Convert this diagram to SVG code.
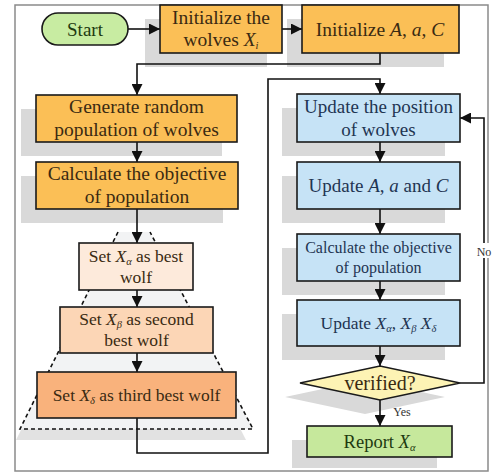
<svg xmlns="http://www.w3.org/2000/svg" width="492" height="474" viewBox="0 0 492 474" font-family="'Liberation Serif', 'Times New Roman', 'DejaVu Serif', serif">
  <style>
    text { font-family: 'Liberation Serif', 'Times New Roman', 'DejaVu Serif', serif; text-anchor: middle; }
    .box { stroke: #1a1a1a; stroke-width: 1.6; }
    .shadow { fill: #d9d9d9; }
    .orange { fill: #fbbf56; }
    .blue { fill: #c6e3f6; }
    .tl { fill: #3a2a12; font-size: 19.5px; }
    .tr { fill: #1f3552; font-size: 19px; }
    .ts { font-size: 17.5px; }
    .it { font-style: italic; }
    .sub { font-size: 10.5px; font-style: italic; }
    .conn { fill: none; stroke: #111; stroke-width: 1.6; }
    .lbl { fill: #333; font-size: 12px; }
  </style>
  <defs>
    <marker id="arrow" markerUnits="userSpaceOnUse" markerWidth="11" markerHeight="11" refX="11" refY="5.5" orient="auto">
      <path d="M0,0 L11,5.5 L0,11 Z" fill="#111"/>
    </marker>
  </defs>

  <!-- outer frame -->
  <rect x="15" y="5" width="473" height="466" fill="#ffffff" stroke="#8a8a8a" stroke-width="1.5"/>

  <!-- box shadows -->
  <g id="shadows">
    <rect class="shadow" x="145" y="19" width="122" height="48"/>
    <rect class="shadow" x="287" y="19" width="157" height="48"/>
    <rect class="shadow" x="21" y="109" width="201" height="47"/>
    <rect class="shadow" x="21" y="176" width="202" height="47"/>
    <rect class="shadow" x="282" y="108" width="163" height="48"/>
    <rect class="shadow" x="282" y="176" width="163" height="47"/>
    <rect class="shadow" x="282" y="248" width="163" height="47"/>
    <rect class="shadow" x="282" y="314" width="163" height="46"/>
    <polygon class="shadow" points="285,397 365,380 445,397 365,414"/>
    <rect class="shadow" x="292" y="440" width="145" height="28"/>
    <polygon points="114,244 146,244 246,440 16,440" fill="#e2e2e2"/>
  </g>

  <!-- hierarchy pyramid (dashed) -->
  <g id="pyramid">
    <polygon points="118,232 150,232 253,429 20,429" fill="#f2f3f4"/>
    <path d="M118,232 L20,429 L253,429 L150,232" fill="none" stroke="#111" stroke-width="1.6" stroke-dasharray="4,3"/>
  </g>

  <!-- connectors -->
  <g id="connectors">
    <line class="conn" x1="128" y1="29" x2="160" y2="29" marker-end="url(#arrow)"/>
    <line class="conn" x1="282" y1="29" x2="302" y2="29" marker-end="url(#arrow)"/>
    <path class="conn" d="M380,53 V64 H137 V95" marker-end="url(#arrow)"/>
    <line class="conn" x1="137" y1="142" x2="137" y2="162" marker-end="url(#arrow)"/>
    <line class="conn" x1="137" y1="209" x2="137" y2="243" marker-end="url(#arrow)"/>
    <line class="conn" x1="137" y1="290" x2="137" y2="307" marker-end="url(#arrow)"/>
    <line class="conn" x1="137" y1="353" x2="137" y2="372" marker-end="url(#arrow)"/>
    <path class="conn" d="M137,418 V453 H268 V79 H380 V94" marker-end="url(#arrow)"/>
    <line class="conn" x1="380" y1="142" x2="380" y2="162" marker-end="url(#arrow)"/>
    <line class="conn" x1="380" y1="209" x2="380" y2="234" marker-end="url(#arrow)"/>
    <line class="conn" x1="380" y1="281" x2="380" y2="300" marker-end="url(#arrow)"/>
    <line class="conn" x1="380" y1="346" x2="380" y2="366" marker-end="url(#arrow)"/>
    <line class="conn" x1="380" y1="400" x2="380" y2="426" marker-end="url(#arrow)"/>
    <path class="conn" d="M460,383 H484 V118 H460" marker-end="url(#arrow)"/>
    <rect x="476" y="243" width="16" height="15" fill="#ffffff"/>
    <text class="lbl" x="484" y="256">No</text>
    <text class="lbl" x="402" y="416">Yes</text>
  </g>

  <!-- nodes -->
  <g id="start">
    <rect class="box" x="42" y="13" width="86" height="32" rx="16" fill="#c8eca2"/>
    <text x="85" y="35.5" fill="#1e3a10" style="font-size:19px">Start</text>
  </g>
  <g id="init-wolves">
    <rect class="box orange" x="160" y="5" width="122" height="48"/>
    <text class="tl" x="221" y="24">Initialize the</text>
    <text class="tl" x="221" y="46">wolves <tspan class="it">X</tspan><tspan class="sub" dy="3">i</tspan></text>
  </g>
  <g id="init-params">
    <rect class="box orange" x="302" y="5" width="157" height="48"/>
    <text class="tl" x="380" y="35.5">Initialize <tspan class="it">A</tspan>, <tspan class="it">a</tspan>, <tspan class="it">C</tspan></text>
  </g>
  <g id="generate">
    <rect class="box orange" x="36" y="95" width="201" height="47"/>
    <text class="tl" x="136.5" y="113">Generate random</text>
    <text class="tl" x="136.5" y="135.5">population of wolves</text>
  </g>
  <g id="calc-left">
    <rect class="box orange" x="36" y="162" width="202" height="47"/>
    <text class="tl" x="137" y="180">Calculate the objective</text>
    <text class="tl" x="137" y="202.5">of population</text>
  </g>
  <g id="set-alpha">
    <rect class="box" x="79" y="243" width="114" height="47" fill="#fdeadb"/>
    <text class="tl ts" x="136" y="262">Set <tspan class="it">X</tspan><tspan class="sub" dy="3">α</tspan><tspan dy="-3"> as best</tspan></text>
    <text class="tl ts" x="136" y="283">wolf</text>
  </g>
  <g id="set-beta">
    <rect class="box" x="60" y="307" width="153" height="46" fill="#fcd6b6"/>
    <text class="tl ts" x="136.5" y="325">Set <tspan class="it">X</tspan><tspan class="sub" dy="3">β</tspan><tspan dy="-3"> as second</tspan></text>
    <text class="tl ts" x="136.5" y="346">best wolf</text>
  </g>
  <g id="set-delta">
    <rect class="box" x="37" y="372" width="199" height="46" fill="#f9b27c"/>
    <text class="tl ts" x="136.5" y="400.5">Set <tspan class="it">X</tspan><tspan class="sub" dy="3">δ</tspan><tspan dy="-3"> as third best wolf</tspan></text>
  </g>
  <g id="update-position">
    <rect class="box blue" x="297" y="94" width="163" height="48"/>
    <text class="tr" x="378.5" y="113">Update the position</text>
    <text class="tr" x="378.5" y="135.5">of wolves</text>
  </g>
  <g id="update-params">
    <rect class="box blue" x="297" y="162" width="163" height="47"/>
    <text class="tr" x="378.5" y="192">Update <tspan class="it">A</tspan>, <tspan class="it">a</tspan> and <tspan class="it">C</tspan></text>
  </g>
  <g id="calc-right">
    <rect class="box blue" x="297" y="234" width="163" height="47"/>
    <text class="tr" x="378.5" y="253" style="font-size:16px">Calculate the objective</text>
    <text class="tr" x="378.5" y="273" style="font-size:16px">of population</text>
  </g>
  <g id="update-leaders">
    <rect class="box blue" x="297" y="300" width="163" height="46"/>
    <text class="tr" x="378.5" y="329" style="font-size:17.5px">Update <tspan class="it">X</tspan><tspan class="sub" dy="3">α</tspan><tspan dy="-3">, </tspan><tspan class="it">X</tspan><tspan class="sub" dy="3">β</tspan><tspan dy="-3"> </tspan><tspan class="it">X</tspan><tspan class="sub" dy="3">δ</tspan></text>
  </g>
  <g id="verified">
    <polygon class="box" points="300,383 380,366 460,383 380,400" fill="#fdf3b4"/>
    <text class="tl" x="380" y="389.5" style="font-size:20px">verified?</text>
  </g>
  <g id="report">
    <rect class="box" x="307" y="426" width="145" height="31" fill="#c6e89c"/>
    <text x="379.5" y="447.5" fill="#1e3a10" style="font-size:18.5px">Report <tspan class="it">X</tspan><tspan class="sub" dy="3">α</tspan></text>
  </g>
</svg>
